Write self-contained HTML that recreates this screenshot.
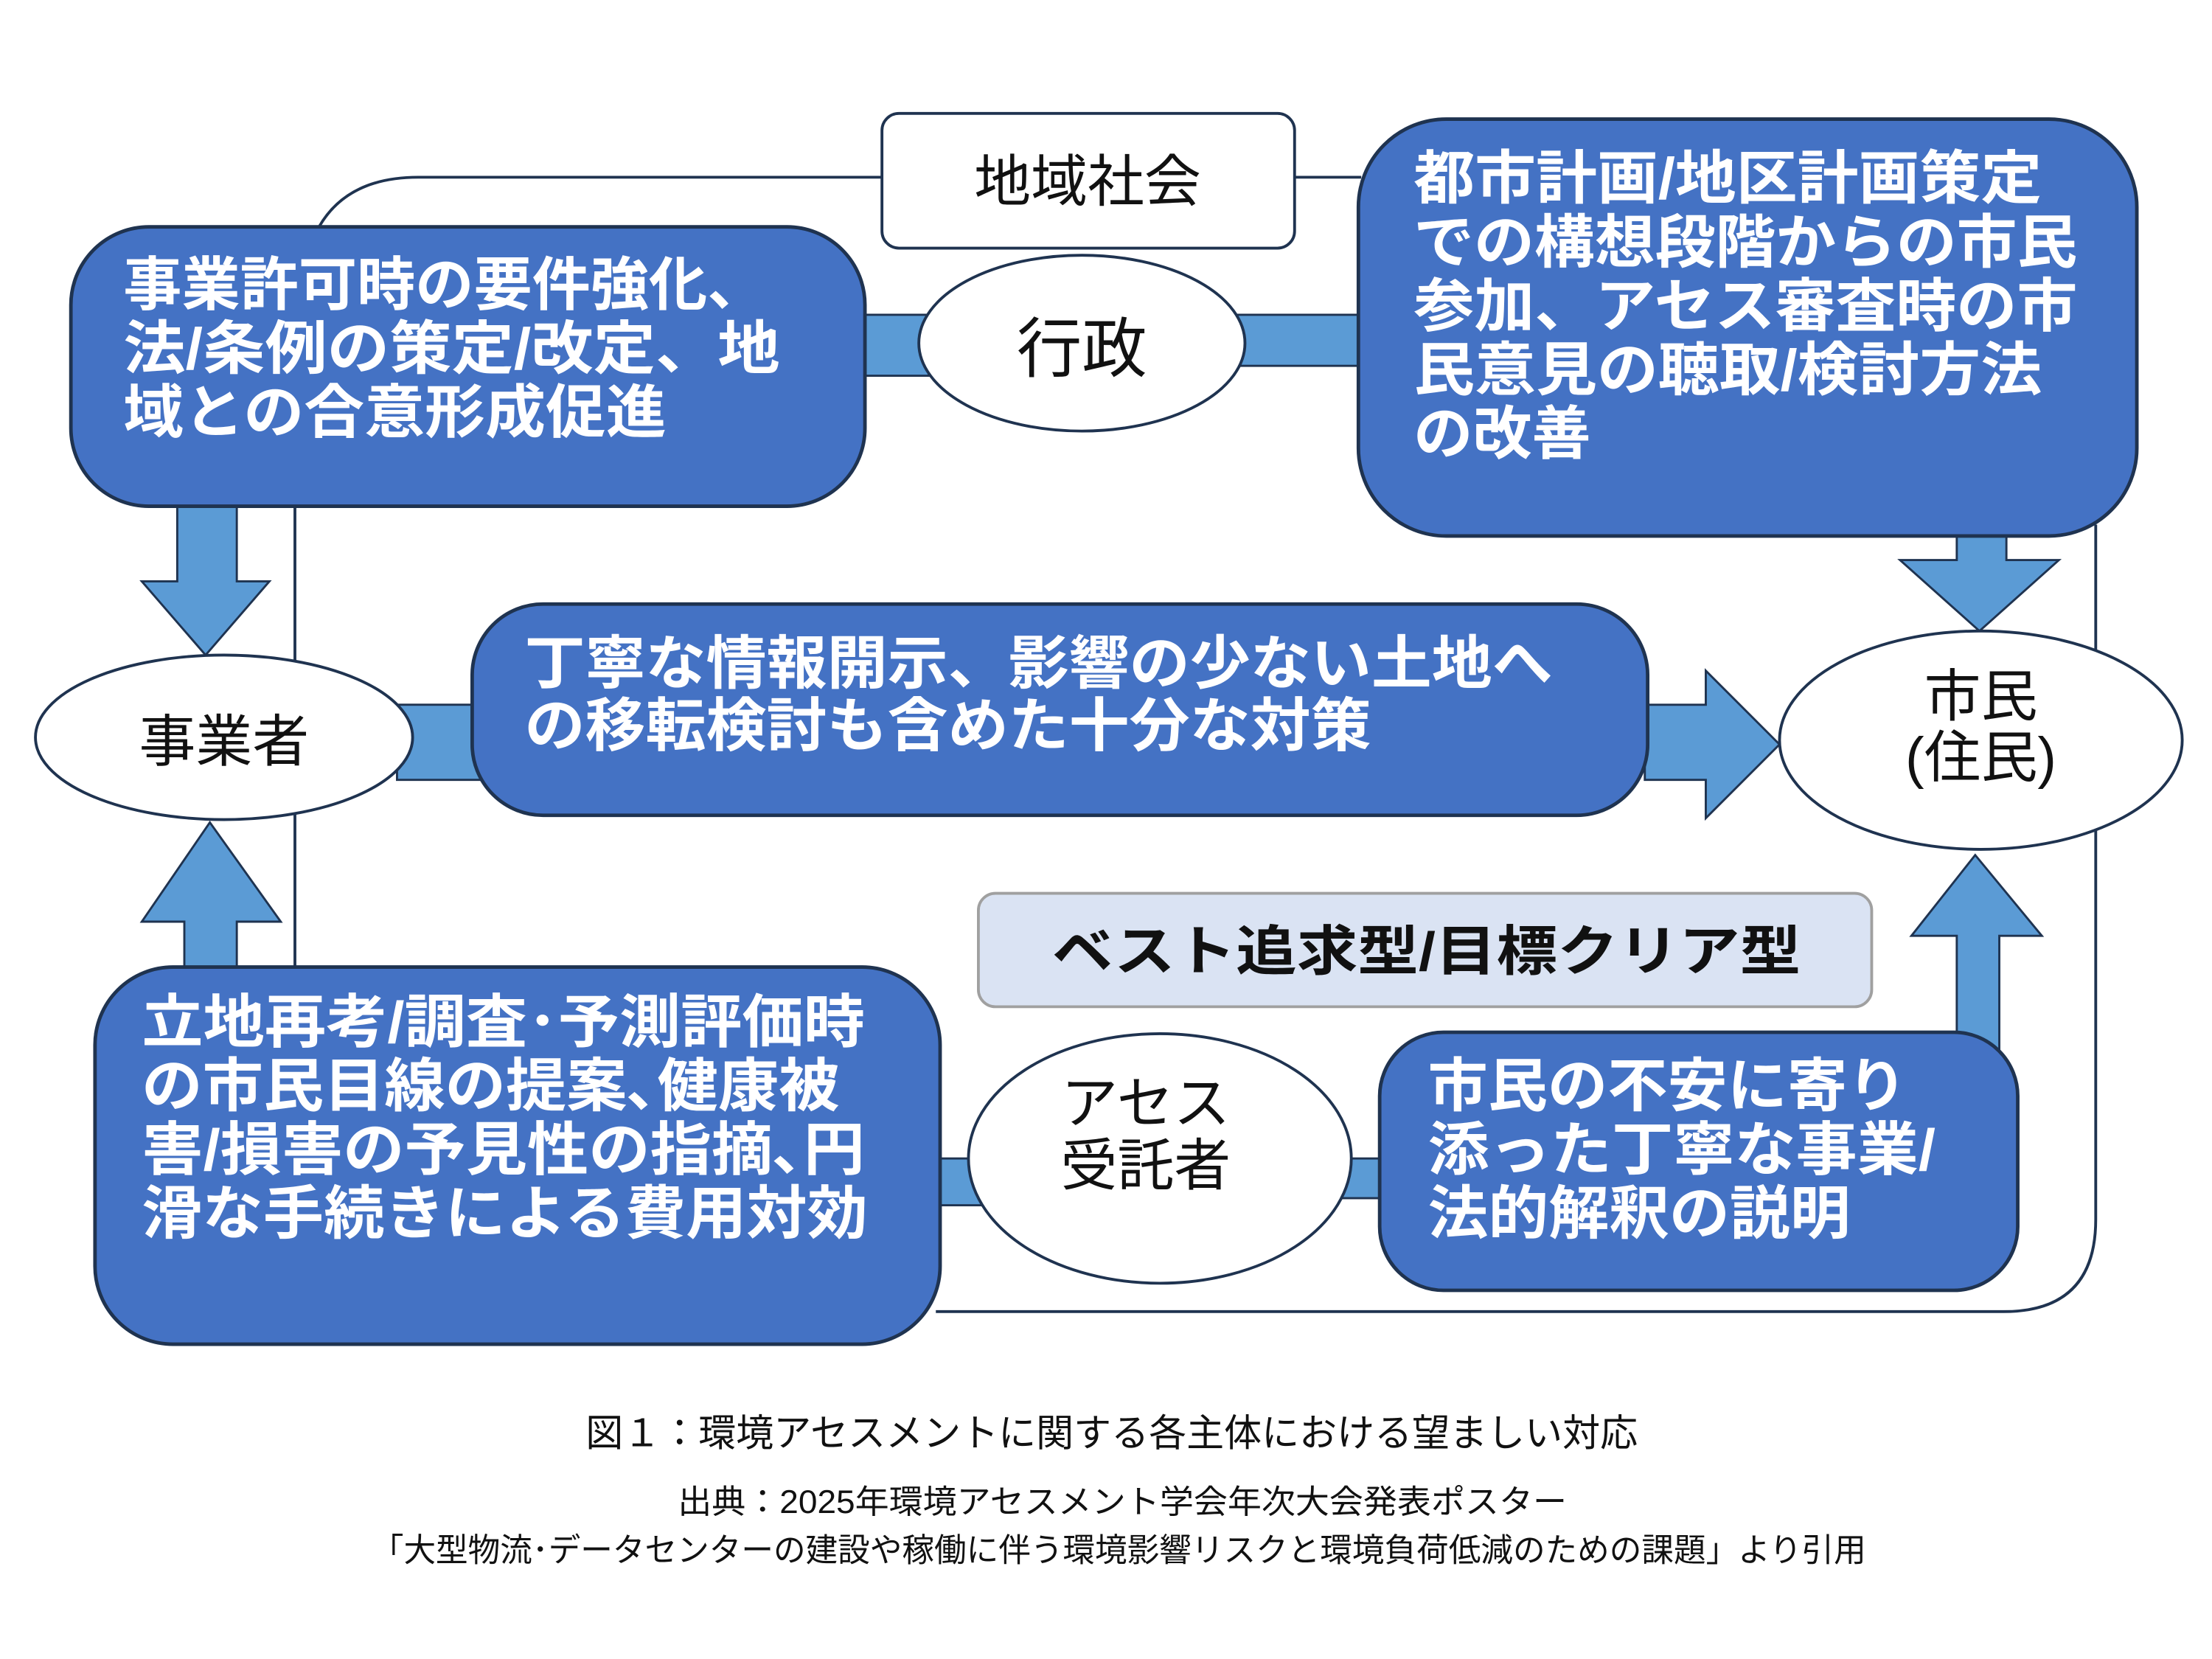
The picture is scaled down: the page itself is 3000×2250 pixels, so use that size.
<!DOCTYPE html>
<html><head><meta charset="utf-8"><style>
html,body{margin:0;padding:0;background:#fff;}
svg{display:block;}
text{font-family:"Liberation Sans","Noto Sans CJK JP",sans-serif;}
.w{fill:#fff;font-weight:bold;font-size:41px;}
.k{fill:#111;font-size:40px;}
.c{fill:#111;}
</style></head><body>
<svg width="3000" height="2250" viewBox="0 0 1560 1170" preserveAspectRatio="none" xmlns="http://www.w3.org/2000/svg">
<rect width="1560" height="1170" fill="#fff"/>
<!-- outer connector lines -->
<path d="M225,160 Q245,125 295,125 L622,125" fill="none" stroke="#1F3350" stroke-width="2"/>
<path d="M913,125 L960,125" fill="none" stroke="#1F3350" stroke-width="2"/>
<path d="M1478,370 L1478,860 Q1478,925 1413,925 L660,925" fill="none" stroke="#1F3350" stroke-width="2"/>
<path d="M208,357 L208,682" fill="none" stroke="#1F3350" stroke-width="2"/>

<!-- connector bars -->
<g fill="#5B9BD5" stroke="#1F3350" stroke-width="1.5">
<rect x="605" y="222" width="50" height="43"/>
<rect x="870" y="222" width="92" height="36"/>
<rect x="280" y="497" width="60" height="53"/>
<rect x="658" y="817" width="35" height="33"/>
<rect x="945" y="817" width="32" height="28"/>
<!-- arrows -->
<path d="M125,355 L167,355 L167,410 L190,410 L145,462 L100,410 L125,410 Z"/>
<path d="M1380,376 L1415,376 L1415,395 L1452,395 L1396,445 L1340,395 L1380,395 Z"/>
<path d="M1160,497 L1203,497 L1203,473 L1255,525 L1203,577 L1203,550 L1160,550 Z"/>
<path d="M130,684 L167,684 L167,650 L198,650 L148,580 L100,650 L130,650 Z"/>
<path d="M1380,742 L1410,742 L1410,660 L1440,660 L1393,603 L1348,660 L1380,660 Z"/>
</g>

<!-- white boxes / ellipses -->
<rect x="622" y="80" width="291" height="95" rx="12" fill="#fff" stroke="#1F3350" stroke-width="2"/>
<text x="767" y="142" class="k" text-anchor="middle" font-size="38">地域社会</text>
<ellipse cx="763" cy="242" rx="115" ry="62" fill="#fff" stroke="#1F3350" stroke-width="2"/>
<text x="763" y="262" class="k" text-anchor="middle" style="font-size:46px">行政</text>
<ellipse cx="158" cy="520" rx="133" ry="58" fill="#fff" stroke="#1F3350" stroke-width="2"/>
<text x="158" y="537" class="k" text-anchor="middle">事業者</text>
<ellipse cx="1397" cy="522" rx="142" ry="77" fill="#fff" stroke="#1F3350" stroke-width="2"/>
<text x="1397" y="505" class="k" text-anchor="middle">市民</text>
<text x="1397" y="548" class="k" text-anchor="middle">(住民)</text>
<ellipse cx="818" cy="817" rx="135" ry="88" fill="#fff" stroke="#1F3350" stroke-width="2"/>
<text x="808" y="792" class="k" text-anchor="middle">アセス</text>
<text x="808" y="836" class="k" text-anchor="middle">受託者</text>

<!-- blue boxes -->
<g fill="#4472C4" stroke="#1F3350" stroke-width="2.5">
<rect x="50" y="160" width="560" height="197" rx="55"/>
<rect x="958" y="84" width="549" height="294" rx="62"/>
<rect x="333" y="426" width="829" height="149" rx="50"/>
<rect x="67" y="682" width="596" height="266" rx="55"/>
<rect x="973" y="728" width="450" height="182" rx="45"/>
</g>

<text class="w" x="87" y="215" textLength="453" lengthAdjust="spacingAndGlyphs">事業許可時の要件強化、</text>
<text class="w" x="87" y="260" textLength="463" lengthAdjust="spacingAndGlyphs">法/条例の策定/改定、地</text>
<text class="w" x="87" y="305" textLength="383" lengthAdjust="spacingAndGlyphs">域との合意形成促進</text>

<text class="w" x="997" y="140" textLength="443" lengthAdjust="spacingAndGlyphs">都市計画/地区計画策定</text>
<text class="w" x="997" y="185" textLength="468" lengthAdjust="spacingAndGlyphs">での構想段階からの市民</text>
<text class="w" x="997" y="230" textLength="468" lengthAdjust="spacingAndGlyphs">参加、アセス審査時の市</text>
<text class="w" x="997" y="275" textLength="443" lengthAdjust="spacingAndGlyphs">民意見の聴取/検討方法</text>
<text class="w" x="997" y="320" textLength="125" lengthAdjust="spacingAndGlyphs">の改善</text>

<text class="w" x="370" y="482" textLength="725" lengthAdjust="spacingAndGlyphs">丁寧な情報開示、影響の少ない土地へ</text>
<text class="w" x="370" y="526" textLength="597" lengthAdjust="spacingAndGlyphs">の移転検討も含めた十分な対策</text>

<text class="w" x="100" y="735" textLength="510" lengthAdjust="spacingAndGlyphs">立地再考/調査･予測評価時</text>
<text class="w" x="100" y="780" textLength="492" lengthAdjust="spacingAndGlyphs">の市民目線の提案､健康被</text>
<text class="w" x="100" y="825" textLength="510" lengthAdjust="spacingAndGlyphs">害/損害の予見性の指摘､円</text>
<text class="w" x="100" y="870" textLength="512" lengthAdjust="spacingAndGlyphs">滑な手続きによる費用対効</text>

<text class="w" x="1007" y="780" textLength="338" lengthAdjust="spacingAndGlyphs">市民の不安に寄り</text>
<text class="w" x="1007" y="825" textLength="358" lengthAdjust="spacingAndGlyphs">添った丁寧な事業/</text>
<text class="w" x="1007" y="870" textLength="298" lengthAdjust="spacingAndGlyphs">法的解釈の説明</text>

<rect x="690" y="630" width="630" height="80" rx="12" fill="#DAE3F3" stroke="#A0A0A0" stroke-width="2"/>
<text x="742" y="684" font-size="38" font-weight="bold" fill="#111" textLength="528" lengthAdjust="spacingAndGlyphs">ベスト追求型/目標クリア型</text>

<text class="c" x="413" y="1020" font-size="27" textLength="742" lengthAdjust="spacingAndGlyphs">図１：環境アセスメントに関する各主体における望ましい対応</text>
<text class="c" x="478" y="1067" font-size="23" textLength="627" lengthAdjust="spacingAndGlyphs">出典：2025年環境アセスメント学会年次大会発表ポスター</text>
<text class="c" x="262" y="1101" font-size="23" textLength="1054" lengthAdjust="spacingAndGlyphs">「大型物流･データセンターの建設や稼働に伴う環境影響リスクと環境負荷低減のための課題」より引用</text>
</svg>
</body></html>
